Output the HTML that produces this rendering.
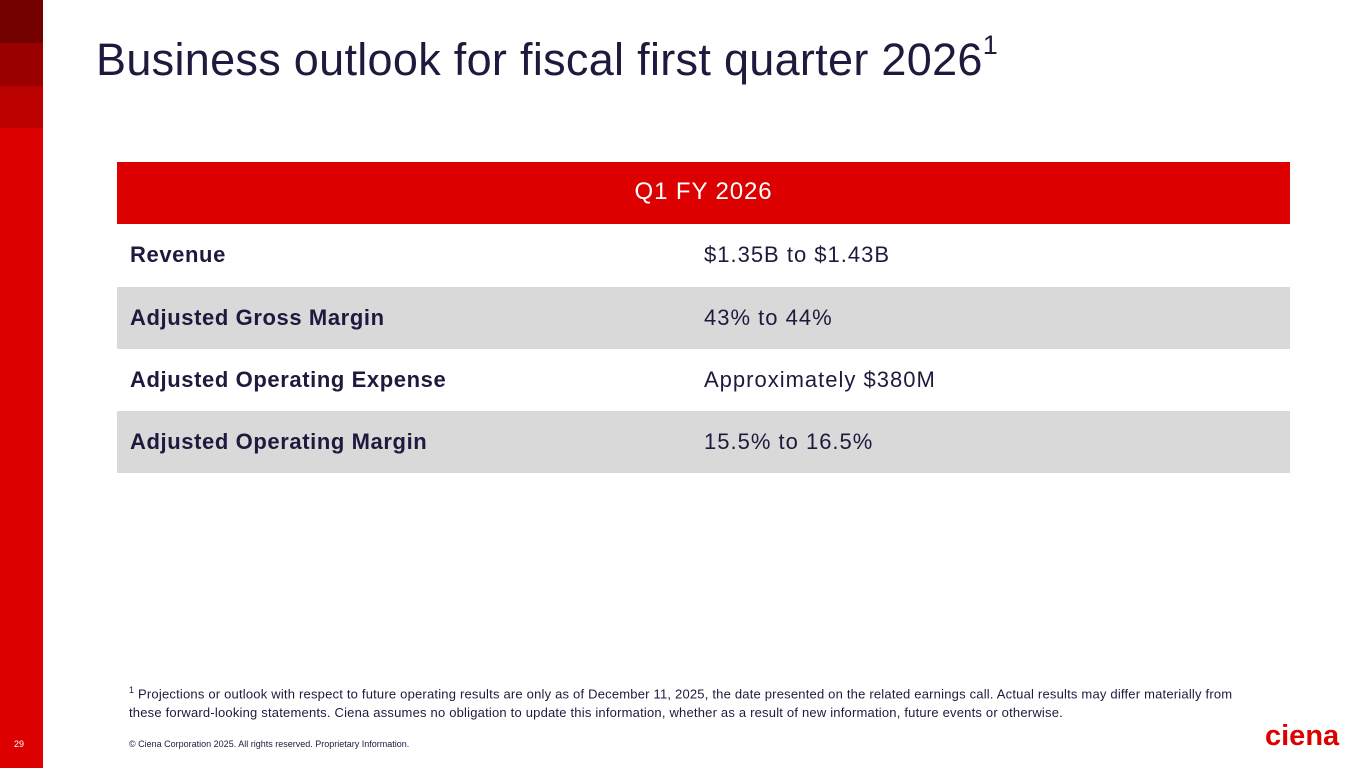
<!DOCTYPE html>
<html><head><meta charset="utf-8">
<style>
*{margin:0;padding:0;box-sizing:border-box}
body{width:1365px;height:768px;position:relative;background:#fff;font-family:"Liberation Sans",sans-serif;overflow:hidden;color:#1a1633}
.sb{position:absolute;left:0;width:43px}
.title{position:absolute;left:96px;top:34px;font-size:45px;color:#1f1a3d;white-space:nowrap;letter-spacing:0.3px}
.title sup{font-size:27px;vertical-align:top;position:relative;top:-4px;letter-spacing:0}
.hdr{position:absolute;left:117px;top:162px;width:1173px;height:62px;background:#dc0000;color:#fff;font-size:24px;text-align:center;line-height:60px;letter-spacing:0.9px}
.row{position:absolute;left:117px;width:1173px;height:62px;font-size:22px;line-height:62px}
.row .k{position:absolute;left:13px;font-weight:bold;color:#1f1a3d;letter-spacing:0.6px}
.row .v{position:absolute;left:587px;color:#1f1a3d;letter-spacing:1px}
.g{background:#d9d9d9}
.fn{position:absolute;left:129px;top:681px;width:1200px;font-size:13px;line-height:19px;color:#1f1a3d;letter-spacing:0.2px;white-space:nowrap}
.copy{position:absolute;left:129px;top:739px;font-size:9px;color:#1f1a3d}
.pg{position:absolute;left:14px;top:739px;font-size:9px;color:#fff}
.logo{position:absolute;left:1265px;top:720px;font-size:29px;font-weight:bold;color:#dc0000;letter-spacing:0}
</style></head><body>
<div class="sb" style="top:0;height:43px;background:#750000"></div>
<div class="sb" style="top:43px;height:43px;background:#9a0000"></div>
<div class="sb" style="top:86px;height:42px;background:#bb0000"></div>
<div class="sb" style="top:128px;height:640px;background:#dc0000"></div>
<div class="pg">29</div>
<div class="title">Business outlook for fiscal first quarter 2026<sup>1</sup></div>
<div class="hdr">Q1 FY 2026</div>
<div class="row" style="top:224px"><span class="k">Revenue</span><span class="v">$1.35B to $1.43B</span></div>
<div class="row g" style="top:287px"><span class="k">Adjusted Gross Margin</span><span class="v">43% to 44%</span></div>
<div class="row" style="top:349px"><span class="k">Adjusted Operating Expense</span><span class="v">Approximately $380M</span></div>
<div class="row g" style="top:411px"><span class="k">Adjusted Operating Margin</span><span class="v">15.5% to 16.5%</span></div>
<div class="fn"><sup style="font-size:9px">1</sup> Projections or outlook with respect to future operating results are only as of December 11, 2025, the date presented on the related earnings call. Actual results may differ materially from<br>these forward-looking statements. Ciena assumes no obligation to update this information, whether as a result of new information, future events or otherwise.</div>
<div class="copy">© Ciena Corporation 2025. All rights reserved. Proprietary Information.</div>
<div class="logo">ciena</div>
</body></html>
